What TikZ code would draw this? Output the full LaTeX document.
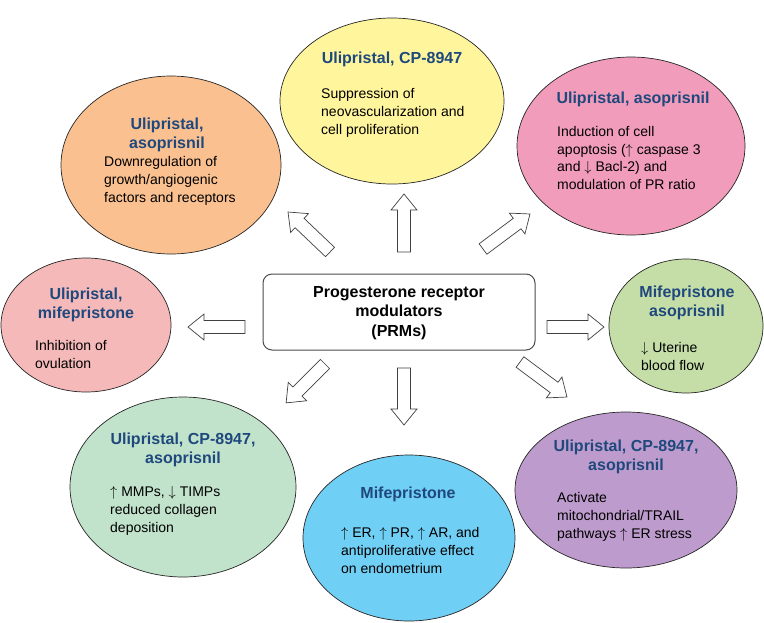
\documentclass[tikz,border=0pt]{standalone}
\usepackage{fontspec}
\setmainfont{Liberation Sans}
\usetikzlibrary{shapes.geometric}
\definecolor{ttl}{RGB}{31,73,125}
\definecolor{cyel}{RGB}{255,245,157}
\definecolor{cpinkr}{RGB}{242,156,188}
\definecolor{corange}{RGB}{250,192,143}
\definecolor{cpinkl}{RGB}{245,185,185}
\definecolor{cgreenr}{RGB}{197,222,168}
\definecolor{cgreenl}{RGB}{193,226,203}
\definecolor{cblue}{RGB}{112,207,245}
\definecolor{cpurple}{RGB}{190,155,205}
\newcommand{\upar}{$\uparrow$}
\newcommand{\dnar}{$\downarrow$}
\begin{document}
% multi-line nodes: the base anchor is the baseline of the LAST line
\begin{tikzpicture}[x=1pt,y=-1pt,
  ell/.style={ellipse, draw=black!85, line width=0.7pt, inner sep=0pt},
  ttlstyle/.style={anchor=base, align=center, text=ttl, font=\fontsize{16}{18.5}\selectfont\bfseries, inner sep=0pt},
  bodystyle/.style={anchor=base west, align=left, font=\fontsize{14}{18}\selectfont, inner sep=0pt},
  pics/barrow/.style={code={\draw[fill=white, draw=black!75, line width=0.7pt, line join=miter]
     (0,-6.5) -- (#1-16,-6.5) -- (#1-16,-13) -- (#1,0) -- (#1-16,13) -- (#1-16,6.5) -- (0,6.5) -- cycle;}}
]
\useasboundingbox (0,0) rectangle (764,622);

% ellipses
\node[ell, fill=cyel,    minimum width=224pt, minimum height=166pt] (yel)  at (392,101) {};
\node[ell, fill=cpinkr,  minimum width=228pt, minimum height=178pt] (pkr)  at (631,146) {};
\node[ell, fill=corange, minimum width=220pt, minimum height=178pt] (org)  at (171,165) {};
\node[ell, fill=cpinkl,  minimum width=170pt, minimum height=134pt] (pkl)  at (86,325) {};
\node[ell, fill=cgreenr, minimum width=154pt, minimum height=134pt] (grr)  at (686,326) {};
\node[ell, fill=cgreenl, minimum width=226pt, minimum height=180pt] (grl)  at (183,487) {};
\node[ell, fill=cblue,   minimum width=212pt, minimum height=166pt] (blu)  at (409,538) {};
\node[ell, fill=cpurple, minimum width=222pt, minimum height=156pt] (pur)  at (626,490) {};

% central box
\node[draw=black!70, line width=1pt, rounded corners=9pt, minimum width=272pt, minimum height=76pt, inner sep=0pt] (prm) at (399,312) {};
\node[anchor=base, align=center, font=\fontsize{16}{19.5}\selectfont\bfseries, inner sep=0pt] (prmtxt) at (399,336)
  {Progesterone receptor\\modulators\\(PRMs)};

% titles (base = last line)
\node[ttlstyle] (t1) at (392,63) {Ulipristal, CP-8947};
\node[ttlstyle] (t2) at (633,103) {Ulipristal, asoprisnil};
\node[ttlstyle] (t3) at (167,148) {Ulipristal,\\asoprisnil};
\node[ttlstyle] (t4) at (86,318) {Ulipristal,\\mifepristone};
\node[ttlstyle] (t5) at (687,316) {Mifepristone\\asoprisnil};
\node[ttlstyle] (t6) at (183,463) {Ulipristal, CP-8947,\\asoprisnil};
\node[ttlstyle] (t7) at (408,498) {Mifepristone};
\node[ttlstyle] (t8) at (626,470) {Ulipristal, CP-8947,\\asoprisnil};

% bodies (base = last line)
\node[bodystyle] (b1) at (321,134) {Suppression of\\neovascularization and\\cell proliferation};
\node[bodystyle, font=\fontsize{14}{17.5}\selectfont] (b2) at (557,189) {Induction of cell\\apoptosis (\upar\ caspase 3\\and \dnar\ Bacl-2) and\\modulation of PR ratio};
\node[bodystyle] (b3) at (104,202) {Downregulation of\\growth/angiogenic\\factors and receptors};
\node[bodystyle] (b4) at (35,368) {Inhibition of\\ovulation};
\node[bodystyle] (b5) at (641,370) {\dnar\ Uterine\\blood flow};
\node[bodystyle] (b6) at (110,532) {\upar\ MMPs, \dnar\ TIMPs\\reduced collagen\\deposition};
\node[bodystyle] (b7) at (341,573) {\upar\ ER, \upar\ PR, \upar\ AR, and\\antiproliferative effect\\on endometrium};
\node[bodystyle] (b8) at (557,538) {Activate\\mitochondrial/TRAIL\\pathways \upar\ ER stress};

% block arrows
\pic[rotate=90] at (404,252) {barrow=58};
\pic[rotate=136.4] at (330,252) {barrow=58};
\pic[rotate=36.7] at (483,249) {barrow=58.6};
\pic[rotate=180] at (245,327) {barrow=57};
\pic[rotate=0] at (547,327) {barrow=57};
\pic[rotate=-135] at (325,364) {barrow=55};
\pic[rotate=-90] at (404,368) {barrow=57};
\pic[rotate=-36.7] at (520,362) {barrow=58.6};
\end{tikzpicture}
\end{document}
